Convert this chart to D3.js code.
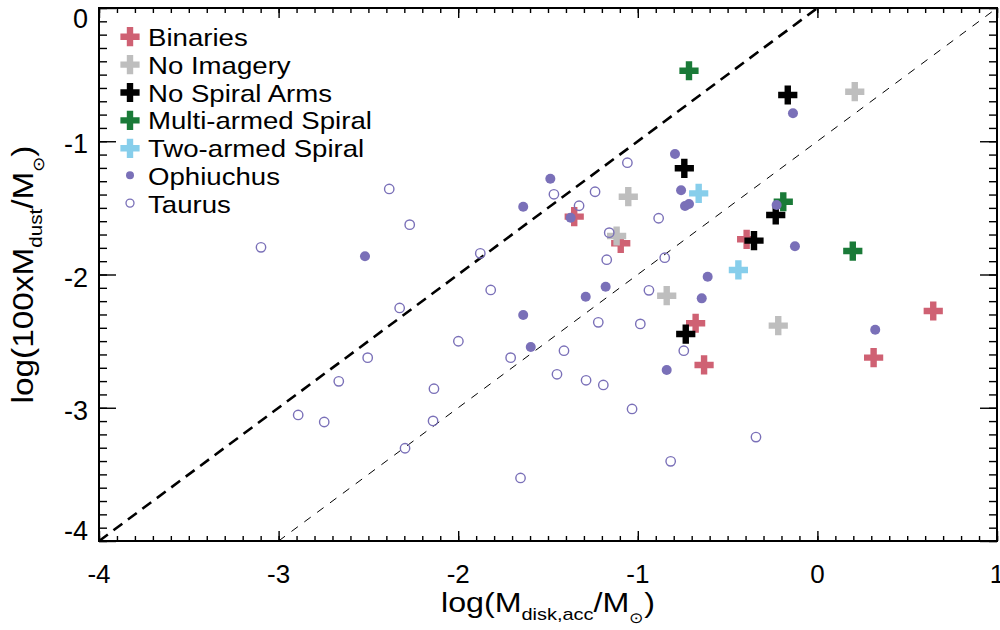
<!DOCTYPE html>
<html>
<head>
<meta charset="utf-8">
<script src="https://cdn.jsdelivr.net/npm/d3@7/dist/d3.min.js"></script>
<style>
body { margin: 0; background: #fff; }
svg { display: block; font-family: "Liberation Sans", Arial, Helvetica, sans-serif; }
</style>
</head>
<body>
<div id="chart"></div>
<script>
// Data: [log Mdisk,acc, log 100xMdust]
const binaries = [[-1.354, -1.566], [-1.095, -1.766], [-0.394, -1.736], [-0.678, -2.366],
    [0.645, -2.274], [0.313, -2.624], [-0.631, -2.679]];
const noImagery = [[-1.053, -1.416], [-1.118, -1.711], [-0.839, -2.159], [-0.218, -2.384], [0.208, -0.628]];
const noSpiral = [[-0.741, -1.203], [-0.232, -1.553], [-0.353, -1.746], [-0.733, -2.447], [-0.165, -0.653]];
const multiArmed = [[-0.715, -0.471], [-0.190, -1.454], [0.197, -1.824]];
const twoArmed = [[-0.661, -1.391], [-0.440, -1.966]];
const ophiuchus = [[-0.793, -1.096], [-1.487, -1.281], [-1.638, -1.491], [-0.759, -1.368], [-0.737, -1.486],
    [-0.715, -1.471], [-1.374, -1.574], [-0.227, -1.478], [-0.125, -1.788], [-0.611, -2.017],
    [-1.179, -2.092], [-1.290, -2.167], [-0.644, -2.179], [-1.638, -2.304], [-1.596, -2.544],
    [-0.839, -2.717], [0.322, -2.414], [-0.136, -0.790], [-2.519, -1.863]];
const taurus = [[-1.058, -1.161], [-1.467, -1.398], [-1.238, -1.379], [-1.327, -1.484], [-0.884, -1.578],
    [-1.159, -1.686], [-1.173, -1.889], [-0.850, -1.874], [-0.938, -2.119], [-1.220, -2.359],
    [-0.986, -2.371], [-1.708, -2.624], [-1.411, -2.572], [-0.744, -2.572], [-1.450, -2.749],
    [-1.288, -2.794], [-1.192, -2.829], [-2.384, -1.358], [-2.270, -1.626], [-3.098, -1.796],
    [-1.877, -1.841], [-1.819, -2.116], [-2.326, -2.251], [-1.999, -2.501], [-2.504, -2.624],
    [-2.665, -2.802], [-2.135, -2.857], [-1.032, -3.009], [-2.891, -3.054], [-2.746, -3.107],
    [-2.140, -3.099], [-2.296, -3.304], [-0.817, -3.402], [-1.653, -3.527], [-0.342, -3.220]];

const xTicks = [-4, -3, -2, -1, 0, 1];
const yTicks = [0, -1, -2, -3, -4];
// reference lines: log 100Mdust = log Mdisk + offset
const lineOffsets = [0, -1];

const crossGroups = [
    {label: "Binaries", color: "#cf6173", data: binaries},
    {label: "No Imagery", color: "#bebebe", data: noImagery},
    {label: "No Spiral Arms", color: "#000000", data: noSpiral},
    {label: "Multi-armed Spiral", color: "#1a7a38", data: multiArmed},
    {label: "Two-armed Spiral", color: "#87ceeb", data: twoArmed}
];
const purple = "#7a70b8";

const W = 1000, H = 630;
const plot = {left: 99, right: 997, top: 8, bottom: 541};
const stretch = 1.15;

const svg = d3.select("#chart").append("svg")
    .attr("width", W)
    .attr("height", H);

const x = d3.scaleLinear().domain([-4, 1]).range([plot.left, plot.right]);
const y = d3.scaleLinear().domain([-4, 0]).range([plot.bottom, plot.top]);

const crossPath = d3.symbol().type(d3.symbolCross).size(205)();

// clip for the marks
svg.append("clipPath").attr("id", "clip")
    .append("rect")
    .attr("x", plot.left).attr("y", plot.top)
    .attr("width", plot.right - plot.left).attr("height", plot.bottom - plot.top);

// dashed reference lines
const lineGen = d3.line().x(d => x(d[0])).y(d => y(d[1]));
lineOffsets.forEach((off, i) => {
    const x0 = Math.max(-4, -4 - off), x1 = Math.min(1, 0 - off);
    svg.append("path")
        .attr("clip-path", "url(#clip)")
        .attr("d", lineGen([[x0, x0 + off], [x1, x1 + off]]))
        .attr("fill", "none")
        .attr("stroke", "#000")
        .attr("stroke-width", i === 0 ? 2.6 : 1)
        .attr("stroke-dasharray", i === 0 ? "11,7" : "8,8");
});

// crosses
crossGroups.forEach(g => {
    svg.append("g").selectAll("path")
        .data(g.data)
        .enter()
        .append("path")
        .attr("d", crossPath)
        .attr("transform", d => `translate(${x(d[0])},${y(d[1])})`)
        .attr("fill", g.color);
});

// Ophiuchus (filled) and Taurus (open)
svg.append("g").selectAll("circle")
    .data(ophiuchus)
    .enter()
    .append("circle")
    .attr("cx", d => x(d[0]))
    .attr("cy", d => y(d[1]))
    .attr("r", 5)
    .attr("fill", purple);

svg.append("g").selectAll("circle")
    .data(taurus)
    .enter()
    .append("circle")
    .attr("cx", d => x(d[0]))
    .attr("cy", d => y(d[1]))
    .attr("r", 4.7)
    .attr("fill", "none")
    .attr("stroke", purple)
    .attr("stroke-width", 1.4);

// axes: ticks pointing inwards on all four sides
const minorX = d3.range(-40, 11).map(v => v / 10);
const minorY = d3.range(-40, 1).map(v => v / 10);

function tickAxis(axis, transform, ticks, size) {
    svg.append("g")
        .attr("transform", transform)
        .call(axis.tickValues(ticks).tickSizeInner(size).tickSizeOuter(0).tickFormat(""))
        .call(g => g.select(".domain").remove())
        .selectAll("line").attr("stroke", "#000").attr("stroke-width", 1.4);
}
tickAxis(d3.axisBottom(x), `translate(0,${plot.bottom})`, minorX, -5);
tickAxis(d3.axisBottom(x), `translate(0,${plot.bottom})`, xTicks, -10);
tickAxis(d3.axisTop(x), `translate(0,${plot.top})`, minorX, -5);
tickAxis(d3.axisTop(x), `translate(0,${plot.top})`, xTicks, -10);
tickAxis(d3.axisLeft(y), `translate(${plot.left},0)`, minorY, -8);
tickAxis(d3.axisLeft(y), `translate(${plot.left},0)`, yTicks, -17);
tickAxis(d3.axisRight(y), `translate(${plot.right},0)`, minorY, -8);
tickAxis(d3.axisRight(y), `translate(${plot.right},0)`, yTicks, -17);

svg.append("rect")
    .attr("x", plot.left).attr("y", plot.top)
    .attr("width", plot.right - plot.left).attr("height", plot.bottom - plot.top)
    .attr("fill", "none").attr("stroke", "#000").attr("stroke-width", 2);

// tick labels
svg.append("g").selectAll("text")
    .data(xTicks)
    .enter()
    .append("text")
    .attr("x", d => x(d))
    .attr("y", 583)
    .attr("text-anchor", "middle")
    .style("font-size", "26px")
    .text(d => d);

svg.append("g").selectAll("text")
    .data(yTicks)
    .enter()
    .append("text")
    .attr("x", 88)
    .attr("y", d => Math.max(28, Math.min(540, y(d) + 12)))
    .attr("text-anchor", "end")
    .style("font-size", "27px")
    .text(d => d);

// axis titles with subscripts
function richText(g, parts, size) {
    const t = g.append("text").attr("text-anchor", "middle").style("font-size", size + "px");
    let shift = 0;
    parts.forEach(p => {
        const target = p.sub ? size * p.sub : 0;
        t.append("tspan")
            .attr("dy", target - shift)
            .style("font-size", p.sub ? (size * (p.scale || 0.62)) + "px" : null)
            .text(p.t);
        shift = target;
    });
    return t;
}

const xTitle = svg.append("g").attr("transform", `translate(${(plot.left + plot.right) / 2},612) scale(${stretch},1)`);
richText(xTitle, [
    {t: "log(M"}, {t: "disk,acc", sub: 0.3}, {t: "/M"}, {t: "\u2299", sub: 0.38, scale: 0.55}, {t: ")"}
], 28);

const yTitle = svg.append("g").attr("transform", `translate(33,${(plot.top + plot.bottom) / 2}) rotate(-90) scale(${stretch},1)`);
richText(yTitle, [
    {t: "log(100xM"}, {t: "dust", sub: 0.3}, {t: "/M"}, {t: "\u2299", sub: 0.38, scale: 0.55}, {t: ")"}
], 29);

// legend
const legendItems = crossGroups.map(g => ({label: g.label, color: g.color, kind: "cross"}))
    .concat([{label: "Ophiuchus", kind: "filled"}, {label: "Taurus", kind: "open"}]);

const legend = svg.append("g");
legendItems.forEach((item, i) => {
    const base = 45.7 + i * 27.9;
    if (item.kind === "cross") {
        legend.append("path")
            .attr("d", crossPath)
            .attr("transform", `translate(130,${base - 9})`)
            .attr("fill", item.color);
    } else {
        legend.append("circle")
            .attr("cx", 130).attr("cy", base - 10)
            .attr("r", 4)
            .attr("fill", item.kind === "filled" ? purple : "none")
            .attr("stroke", item.kind === "open" ? purple : "none")
            .attr("stroke-width", 1.3);
    }
    legend.append("g")
        .attr("transform", `translate(148,${base}) scale(${stretch},1)`)
        .append("text")
        .style("font-size", "24px")
        .text(item.label);
});
</script>
</body>
</html>
